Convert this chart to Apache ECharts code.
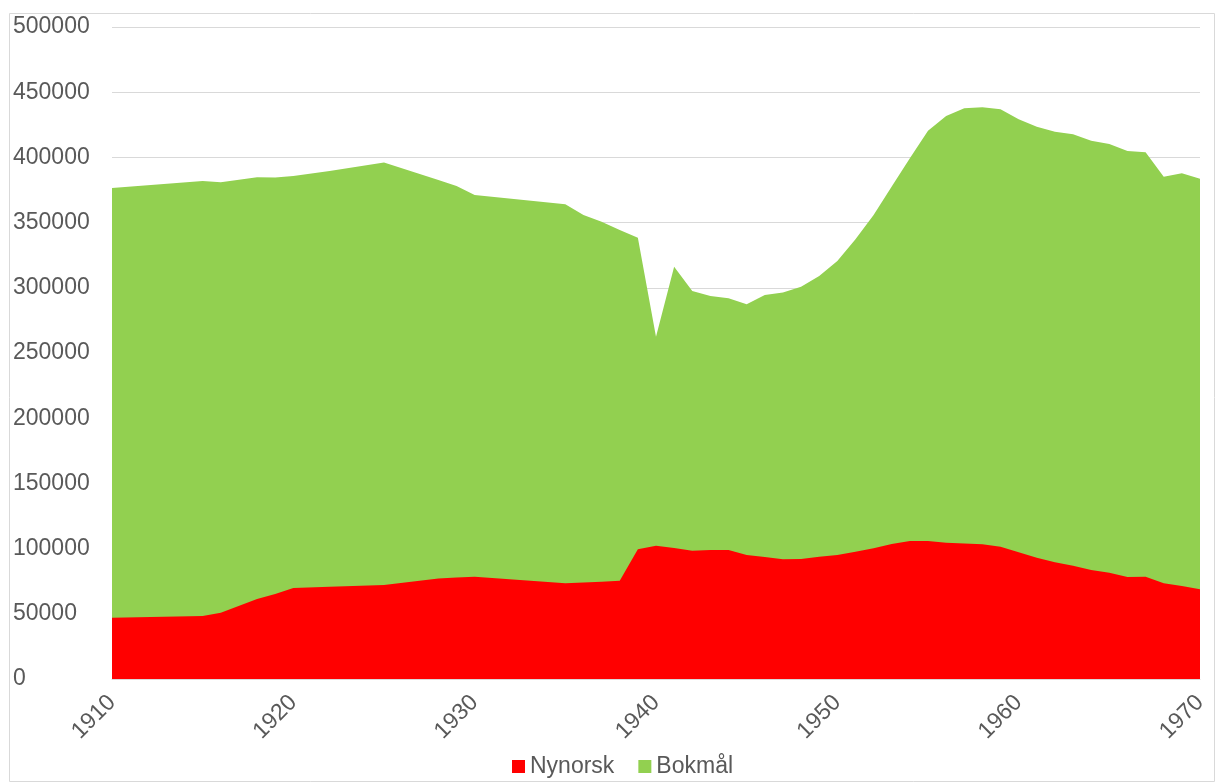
<!DOCTYPE html>
<html>
<head>
<meta charset="utf-8">
<script src="https://cdn.jsdelivr.net/npm/echarts@6/dist/echarts.min.js"></script>
<style>
html,body{margin:0;padding:0;background:#fff;}
#chart{width:1216px;height:783px;}
</style>
</head>
<body>
<div id="chart"></div>
<script>
const years = [1910,1915,1916,1918,1919,1920,1922,1925,1928,1929,1930,1935,1936,1937,1938,1939,
  1940,1941,1942,1943,1944,1945,1946,1947,1948,1949,1950,1951,1952,1953,1954,1955,1956,1957,1958,1959,
  1960,1961,1962,1963,1964,1965,1966,1967,1968,1969,1970];
const nynorsk = [47000,48300,50900,61400,65200,69800,70800,72100,77000,77800,78500,73400,74000,74600,75400,99500,
  102200,100500,98400,98900,99000,95100,93600,91800,92000,93800,95100,97600,100200,103500,105800,105800,104500,104000,103300,101500,
  97200,93000,89500,86900,83600,81500,78200,78500,73400,71300,68800];
const bokmal = [329500,333600,330000,323300,319300,315900,318800,323900,305700,300300,292700,290600,281800,276100,268900,238900,
  160300,215700,199200,194800,192900,192200,200900,204500,208900,215300,225500,239600,255600,274100,293500,314700,327300,333600,335100,335400,
  332000,330600,330200,330800,329200,328800,326700,325400,311800,316500,314900];
const seriesNames = ['Nynorsk','Bokmål'];
const xTicks = [1910,1920,1930,1940,1950,1960,1970];

const chart = echarts.init(document.getElementById('chart'));
const font = 'Liberation Sans, Arial, sans-serif';
// stacked top of Bokmål = Nynorsk + Bokmål (drawn behind the Nynorsk area)
const nynData = years.map((y,i)=>[y, nynorsk[i]]);
const totData = years.map((y,i)=>[y, nynorsk[i] + bokmal[i]]);
chart.setOption({
  animation:false,
  textStyle:{fontFamily:font},
  graphic:[{type:'rect',shape:{x:9.5,y:13.5,width:1205,height:768},style:{fill:'none',stroke:'#D9D9D9',lineWidth:1}}],
  grid:{left:112,right:16,top:27,bottom:104,containLabel:false},
  legend:{
    bottom:0,left:507,itemWidth:13,itemHeight:13,itemGap:24,icon:'rect',
    textStyle:{fontSize:23,color:'#595959',fontFamily:font},
    data:seriesNames
  },
  xAxis:{
    type:'value',min:1910,max:1970,interval:10,
    axisLine:{show:true,lineStyle:{color:'#D9D9D9'}},
    axisTick:{show:false},
    splitLine:{show:false},
    axisLabel:{rotate:45,fontSize:23,color:'#595959',margin:20,fontFamily:font,
      formatter:(v)=>xTicks.includes(v)?String(v):''}
  },
  yAxis:{
    type:'value',min:0,max:500000,interval:50000,
    axisLine:{show:false},axisTick:{show:false},
    splitLine:{lineStyle:{color:'#D9D9D9',width:1}},
    axisLabel:{fontSize:23,color:'#595959',align:'left',margin:99,fontFamily:font,
      formatter:(v)=>String(v)}
  },
  series:[
    {name:seriesNames[1],type:'line',symbol:'none',data:totData,z:2,
     lineStyle:{width:0},areaStyle:{color:'#92D050',opacity:1},itemStyle:{color:'#92D050'}},
    {name:seriesNames[0],type:'line',symbol:'none',data:nynData,z:3,
     lineStyle:{width:0},areaStyle:{color:'#FF0000',opacity:1},itemStyle:{color:'#FF0000'}}
  ]
});
</script>
</body>
</html>
